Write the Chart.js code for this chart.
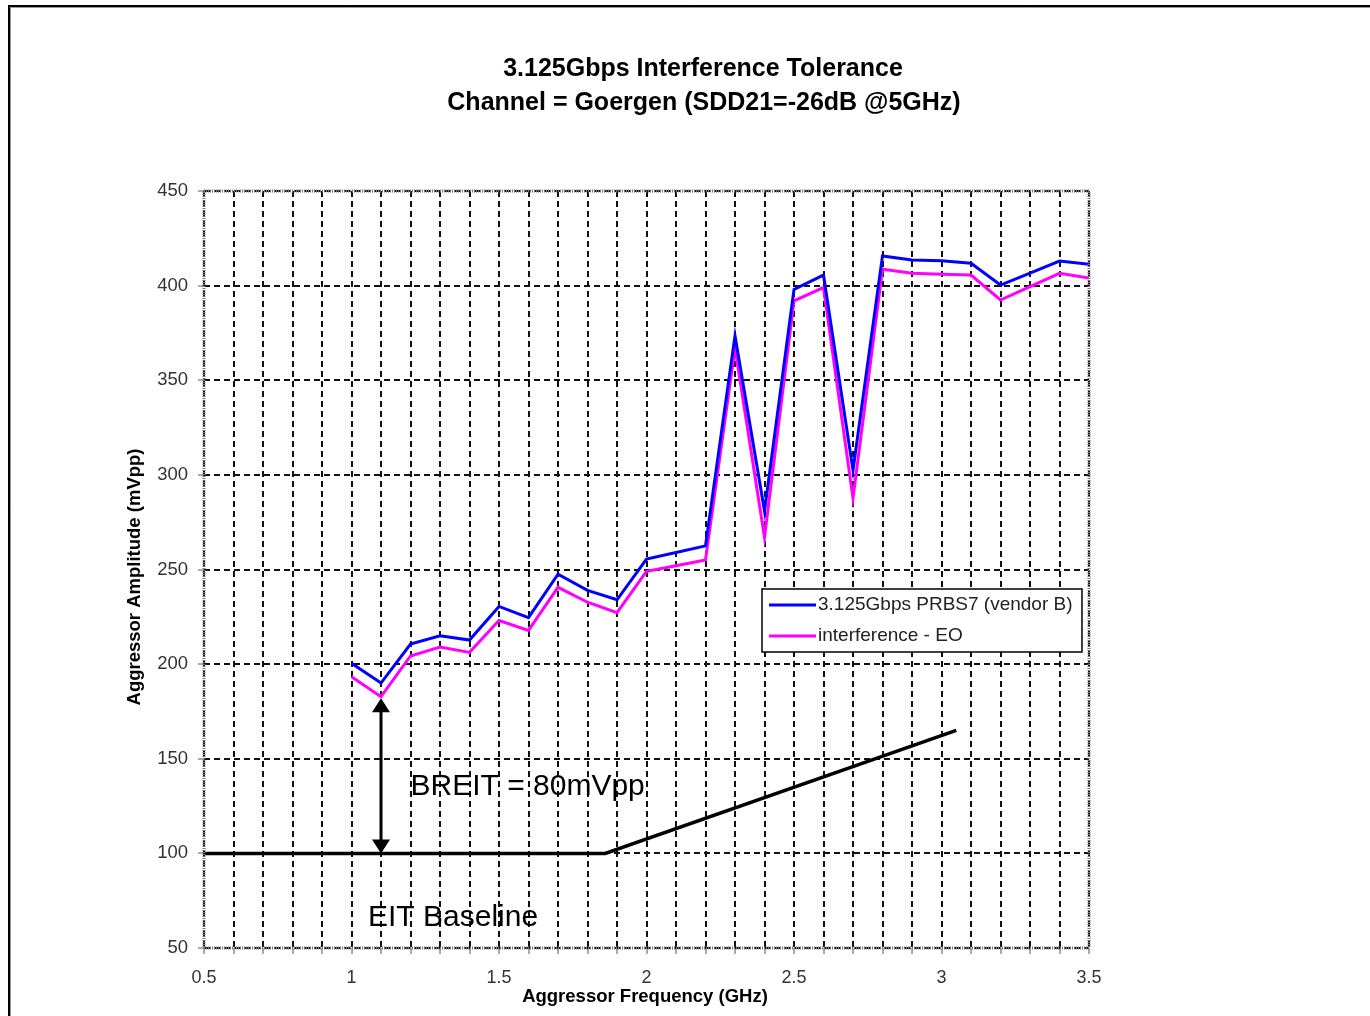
<!DOCTYPE html>
<html>
<head>
<meta charset="utf-8">
<script src="https://cdn.jsdelivr.net/npm/chart.js@4.4.1/dist/chart.umd.min.js"></script>
<style>
  html, body { margin: 0; padding: 0; background: #fff; }
  #wrap { width: 1370px; height: 1016px; position: relative; }
</style>
</head>
<body>
<div id="wrap"><canvas id="grafico" width="1370" height="1016"></canvas></div>
<script>
// dados
const frequencias = [1.0, 1.1, 1.2, 1.3, 1.4, 1.5, 1.6, 1.7, 1.8, 1.9, 2.0, 2.1, 2.2,
  2.3, 2.4, 2.5, 2.6, 2.7, 2.8, 2.9, 3.0, 3.1, 3.2, 3.3, 3.4, 3.5];
const vendorB = [200.5, 190, 210.6, 215, 212.7, 230.5, 224.6, 247.5, 239, 234, 255.5, 259, 262.5,
  373.5, 281, 398, 405.6, 302.5, 415.7, 413.5, 413.2, 411.8, 400.3, 406.6, 413, 411.3];
const interferenciaEO = [193.3, 182.8, 204.3, 209, 206.2, 223, 217.8, 240.6, 232.7, 227.2, 249, 252, 255,
  367, 267, 392, 399, 287.6, 408.7, 406.6, 406, 405.6, 392.4, 399.5, 406.5, 404];
const eitFreq = [0.5, 1.86, 3.05];
const eitAmp = [100, 100, 165];
const breitFreq = 1.1;
const breitDe = 100;
const breitAte = 182;
const xTicks = [0.5, 1, 1.5, 2, 2.5, 3, 3.5];
const yTicks = [50, 100, 150, 200, 250, 300, 350, 400, 450];

const titulo = ["3.125Gbps Interference Tolerance", "Channel = Goergen (SDD21=-26dB @5GHz)"];
const nomesSeries = ["3.125Gbps PRBS7 (vendor B)", "interference - EO"];

const FONTE = '"Liberation Sans", Arial, sans-serif';

const pontos = (xs, ys) => xs.map((x, i) => ({ x, y: ys[i] }));

// desenha moldura, título, legenda, seta e textos
const extras = {
  id: "extras",
  beforeDraw(chart) {
    const c = chart.ctx;
    c.save();
    c.fillStyle = "#fff";
    c.fillRect(0, 0, chart.width, chart.height);
    // moldura externa
    c.strokeStyle = "#999";
    c.lineWidth = 1;
    c.beginPath();
    c.moveTo(10.5, chart.height); c.lineTo(10.5, 7.5); c.lineTo(chart.width, 7.5);
    c.stroke();
    c.strokeStyle = "#000";
    c.lineWidth = 2;
    c.beginPath();
    c.moveTo(9, chart.height); c.lineTo(9, 6); c.lineTo(chart.width, 6);
    c.stroke();
    c.restore();
  },
  afterDraw(chart) {
    const c = chart.ctx;
    const a = chart.chartArea;
    const xs = chart.scales.x, ys = chart.scales.y;
    c.save();

    // borda da área do gráfico (pontilhada)
    c.strokeStyle = "#777";
    c.lineWidth = 3;
    c.setLineDash([1, 1]);
    c.strokeRect(a.left, a.top, a.right - a.left, a.bottom - a.top);
    c.setLineDash([]);

    // título
    c.fillStyle = "#000";
    c.textAlign = "center";
    c.textBaseline = "middle";
    c.font = "bold 25px " + FONTE;
    c.fillText(titulo[0], 703, 69);
    c.fillText(titulo[1], 704, 103);

    // títulos dos eixos
    c.font = "bold 18.5px " + FONTE;
    c.fillText("Aggressor Frequency (GHz)", 645, 997);
    c.save();
    c.translate(135, 577);
    c.rotate(-Math.PI / 2);
    c.fillText("Aggressor Amplitude (mVpp)", 0, 0);
    c.restore();

    // seta BREIT
    const ax = xs.getPixelForValue(breitFreq);
    const y0 = ys.getPixelForValue(breitDe);
    const y1 = ys.getPixelForValue(breitAte);
    c.strokeStyle = "#000";
    c.lineWidth = 3;
    c.beginPath();
    c.moveTo(ax, y0 - 10); c.lineTo(ax, y1 + 10);
    c.stroke();
    c.beginPath();
    c.moveTo(ax, y1); c.lineTo(ax - 9, y1 + 14); c.lineTo(ax + 9, y1 + 14); c.closePath();
    c.moveTo(ax, y0); c.lineTo(ax - 9, y0 - 14); c.lineTo(ax + 9, y0 - 14); c.closePath();
    c.fill();

    // textos
    c.textAlign = "left";
    c.font = "30px " + FONTE;
    c.fillText("BREIT = 80mVpp", xs.getPixelForValue(1.2), ys.getPixelForValue(135));
    c.fillText("EIT Baseline", xs.getPixelForValue(1.056), ys.getPixelForValue(66));

    // legenda
    const lx = a.left + 558, ly = 589, lw = 320, lh = 63;
    c.fillStyle = "#fff";
    c.fillRect(lx, ly, lw, lh);
    c.strokeStyle = "#000";
    c.lineWidth = 1.5;
    c.strokeRect(lx, ly, lw, lh);
    const cores = ["#0000ff", "#ff00ff"];
    c.font = "19px " + FONTE;
    nomesSeries.forEach((nome, i) => {
      const yy = ly + 16 + i * 31;
      c.strokeStyle = cores[i];
      c.lineWidth = 3;
      c.beginPath();
      c.moveTo(lx + 7, yy); c.lineTo(lx + 54, yy);
      c.stroke();
      c.fillStyle = "#222";
      c.fillText(nome, lx + 56, yy);
    });
    c.restore();
  },
};

const ctx = document.getElementById("grafico");
new Chart(ctx.getContext("2d"), {
  type: "line",
  data: {
    datasets: [
      {
        label: nomesSeries[0],
        data: pontos(frequencias, vendorB),
        borderColor: "#0000ff",
        borderWidth: 3,
        pointRadius: 0,
        tension: 0,
        order: 1,
      },
      {
        label: nomesSeries[1],
        data: pontos(frequencias, interferenciaEO),
        borderColor: "#ff00ff",
        borderWidth: 3,
        pointRadius: 0,
        tension: 0,
        order: 2,
      },
      {
        label: "EIT",
        data: pontos(eitFreq, eitAmp),
        borderColor: "#000",
        borderWidth: 3.5,
        pointRadius: 0,
        tension: 0,
        order: 0,
      },
    ],
  },
  options: {
    responsive: false,
    animation: false,
    layout: { padding: { left: 110, top: 191, right: 281, bottom: 0 } },
    plugins: { legend: { display: false }, tooltip: { enabled: false } },
    scales: {
      x: {
        type: "linear",
        min: 0.5,
        max: 3.5,
        afterFit: (s) => { s.height = 68; },
        afterBuildTicks: (s) => {
          const t = [];
          for (let i = 5; i <= 35; i++) t.push({ value: i / 10 });
          s.ticks = t;
        },
        ticks: {
          autoSkip: false,
          maxRotation: 0,
          padding: 13,
          color: "#333",
          font: { size: 18, family: FONTE },
          callback: (v) => {
            const hit = xTicks.find((t) => Math.abs(t - v) < 1e-6);
            return hit === undefined ? "" : String(hit);
          },
        },
        grid: { color: "#111", lineWidth: 2, tickLength: 6, tickColor: "#555", tickWidth: 1 },
        border: { display: false, dash: [6, 4] },
      },
      y: {
        min: 50,
        max: 450,
        afterFit: (s) => { s.width = 94; },
        afterBuildTicks: (s) => { s.ticks = yTicks.map((v) => ({ value: v })); },
        ticks: {
          padding: 10,
          color: "#333",
          font: { size: 18.5, family: FONTE },
        },
        grid: { color: "#111", lineWidth: 2, tickLength: 6, tickColor: "#555", tickWidth: 1 },
        border: { display: false, dash: [6, 4] },
      },
    },
  },
  plugins: [extras],
});
</script>
</body>
</html>
